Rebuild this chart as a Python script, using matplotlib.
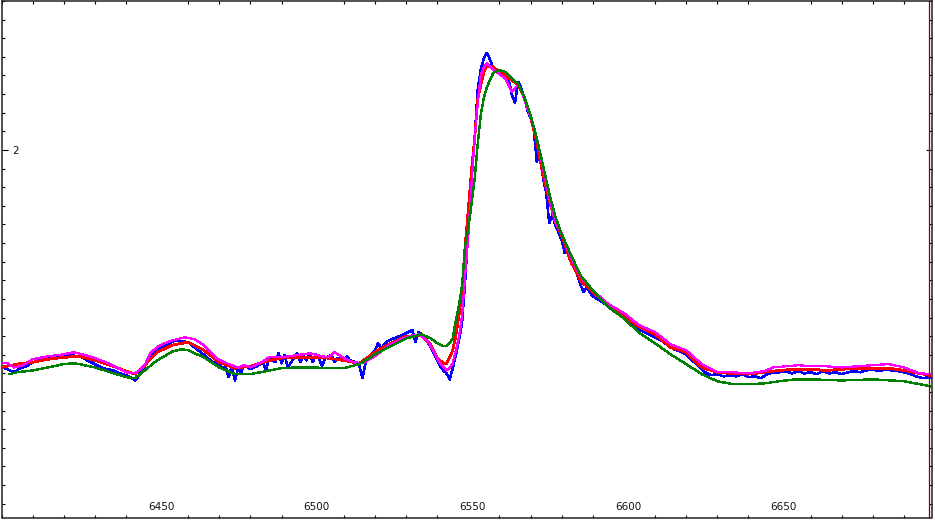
import matplotlib
matplotlib.use("Agg")
import matplotlib.pyplot as plt
import matplotlib.transforms as mtransforms
from matplotlib.ticker import MultipleLocator, FixedLocator, FixedFormatter

# ---------------- data (wavelength in Angstrom, relative flux) ----------------
red_wl = [6400, 6405, 6410, 6415, 6420, 6425, 6430, 6435, 6440, 6443, 6446, 6450, 6455, 6460, 6465,
          6470, 6475, 6480, 6485, 6490, 6495, 6500, 6505, 6510, 6515, 6520, 6525, 6530, 6535, 6538,
          6540, 6542, 6543, 6544, 6545, 6546, 6547, 6548, 6549, 6550, 6551, 6552, 6553, 6554, 6555,
          6556, 6558, 6560, 6563, 6566, 6568, 6570, 6572, 6574, 6576, 6578, 6580, 6583, 6586, 6590,
          6595, 6600, 6605, 6610, 6615, 6620, 6625, 6630, 6635, 6640, 6645, 6650, 6655, 6660, 6665,
          6670, 6675, 6680, 6685, 6690, 6695, 6700]
red_flux = [1.416, 1.425, 1.430, 1.438, 1.443, 1.446, 1.435, 1.422, 1.406, 1.398, 1.422, 1.457, 1.476, 1.484, 1.462,
            1.430, 1.414, 1.419, 1.433, 1.441, 1.443, 1.443, 1.441, 1.435, 1.427, 1.457, 1.481, 1.500, 1.502, 1.476,
            1.441, 1.427, 1.427, 1.443, 1.462, 1.502, 1.556, 1.623, 1.744, 1.838, 1.941, 2.027, 2.134, 2.175, 2.209,
            2.226, 2.223, 2.209, 2.193, 2.175, 2.142, 2.089, 2.021, 1.933, 1.865, 1.806, 1.771, 1.699, 1.650, 1.618,
            1.583, 1.554, 1.524, 1.505, 1.470, 1.457, 1.416, 1.403, 1.400, 1.398, 1.403, 1.408, 1.411, 1.411, 1.408,
            1.411, 1.414, 1.414, 1.414, 1.408, 1.400, 1.392]

green_wl = [6402.5, 6405, 6410, 6415, 6420, 6423, 6425, 6430, 6435, 6440, 6443, 6446, 6450, 6455, 6458,
            6460, 6465, 6470, 6475, 6480, 6485, 6490, 6495, 6500, 6505, 6510, 6515, 6520, 6525, 6530,
            6535, 6538, 6540, 6542, 6543, 6544, 6545, 6546, 6547, 6548, 6549, 6550, 6551, 6552, 6553,
            6554, 6555, 6556, 6558, 6560, 6562, 6564, 6566, 6568, 6570, 6572, 6574, 6576, 6578, 6580,
            6583, 6586, 6590, 6595, 6600, 6605, 6610, 6615, 6620, 6625, 6630, 6635, 6640, 6645, 6650,
            6655, 6660, 6670, 6680, 6690, 6695, 6700]
green_flux = [1.398, 1.403, 1.408, 1.416, 1.425, 1.427, 1.425, 1.416, 1.403, 1.390, 1.387, 1.408, 1.435, 1.459, 1.465,
              1.462, 1.443, 1.416, 1.398, 1.398, 1.406, 1.414, 1.416, 1.416, 1.414, 1.414, 1.425, 1.451, 1.473, 1.494,
              1.505, 1.494, 1.481, 1.473, 1.473, 1.481, 1.494, 1.543, 1.583, 1.637, 1.744, 1.790, 1.852, 1.919, 2.013,
              2.094, 2.140, 2.169, 2.207, 2.215, 2.209, 2.193, 2.177, 2.142, 2.094, 2.032, 1.959, 1.884, 1.820, 1.774,
              1.718, 1.664, 1.623, 1.578, 1.548, 1.508, 1.481, 1.451, 1.425, 1.398, 1.379, 1.371, 1.371, 1.373, 1.379,
              1.384, 1.384, 1.381, 1.384, 1.379, 1.371, 1.363]

magenta_wl = [6400, 6402, 6404, 6407, 6410, 6415, 6420, 6423, 6427, 6430, 6435, 6440, 6443, 6446, 6448,
              6451, 6455, 6459, 6462, 6465, 6469, 6473, 6476, 6478, 6480, 6483, 6486, 6490, 6495, 6499,
              6503, 6505, 6507, 6510, 6513, 6516, 6520, 6525, 6530, 6534, 6537, 6539, 6541, 6543, 6544,
              6545, 6546, 6547, 6548, 6549, 6550, 6551, 6552, 6553, 6554, 6555, 6556, 6558, 6560, 6562,
              6564, 6565, 6566, 6567, 6568, 6570, 6572, 6574, 6576, 6578, 6580, 6583, 6586, 6590, 6595,
              6600, 6605, 6610, 6615, 6620, 6625, 6630, 6635, 6640, 6645, 6648, 6652, 6656, 6660, 6665,
              6670, 6675, 6680, 6685, 6690, 6695, 6700]
magenta_flux = [1.427, 1.427, 1.416, 1.422, 1.438, 1.446, 1.451, 1.457, 1.449, 1.441, 1.425, 1.403, 1.400, 1.422, 1.457,
                1.476, 1.489, 1.497, 1.492, 1.476, 1.441, 1.425, 1.416, 1.422, 1.416, 1.427, 1.443, 1.443, 1.449, 1.454,
                1.446, 1.443, 1.457, 1.441, 1.430, 1.427, 1.446, 1.478, 1.497, 1.505, 1.486, 1.457, 1.425, 1.408, 1.414,
                1.427, 1.462, 1.497, 1.556, 1.664, 1.771, 1.906, 2.027, 2.121, 2.201, 2.223, 2.234, 2.215, 2.204, 2.191,
                2.156, 2.166, 2.175, 2.161, 2.134, 2.089, 2.032, 1.951, 1.871, 1.806, 1.777, 1.709, 1.661, 1.623, 1.586,
                1.562, 1.529, 1.511, 1.478, 1.462, 1.425, 1.403, 1.403, 1.400, 1.406, 1.416, 1.419, 1.422, 1.419, 1.419,
                1.416, 1.419, 1.422, 1.425, 1.416, 1.400, 1.398]

blue_wl = [6400, 6402, 6404, 6406, 6408, 6410, 6412, 6414, 6416, 6418, 6420, 6422, 6424, 6426, 6428,
           6430, 6432, 6434, 6436, 6438, 6440, 6442, 6443, 6444, 6446, 6448, 6450, 6452, 6454, 6456,
           6458, 6460, 6462, 6464, 6466, 6468, 6470, 6471, 6472, 6473, 6474, 6475, 6476, 6477, 6478,
           6480, 6482, 6484, 6485, 6486, 6488, 6489, 6490, 6491, 6492, 6494, 6495, 6496, 6497, 6498,
           6499, 6500, 6501, 6502, 6503, 6504, 6506, 6507, 6508, 6510, 6511, 6512, 6514, 6515, 6516,
           6517, 6518, 6520, 6521, 6522, 6524, 6526, 6528, 6530, 6532, 6533, 6534, 6536, 6538, 6540,
           6541, 6542, 6543, 6544, 6545, 6546, 6547, 6548, 6549, 6550, 6551, 6552, 6553, 6554, 6555,
           6556, 6557, 6558, 6559, 6560, 6561, 6562, 6563, 6564, 6565, 6566, 6567, 6568, 6569, 6570,
           6571, 6572, 6573, 6574, 6575, 6576, 6577, 6578, 6580, 6581, 6582, 6584, 6585, 6586, 6587,
           6588, 6590, 6592, 6594, 6596, 6598, 6600, 6602, 6604, 6606, 6608, 6610, 6612, 6614, 6616,
           6618, 6620, 6622, 6624, 6626, 6628, 6630, 6632, 6634, 6636, 6638, 6640, 6642, 6644, 6646,
           6648, 6650, 6652, 6654, 6656, 6658, 6660, 6662, 6664, 6666, 6668, 6670, 6672, 6674, 6676,
           6678, 6680, 6682, 6684, 6686, 6688, 6690, 6692, 6694, 6696, 6698, 6700]
blue_flux = [1.416, 1.411, 1.403, 1.414, 1.419, 1.430, 1.435, 1.438, 1.441, 1.443, 1.449, 1.451, 1.446, 1.443, 1.433,
             1.425, 1.416, 1.411, 1.408, 1.400, 1.395, 1.387, 1.381, 1.392, 1.419, 1.449, 1.465, 1.473, 1.481, 1.489,
             1.486, 1.484, 1.470, 1.457, 1.443, 1.430, 1.425, 1.414, 1.419, 1.390, 1.419, 1.381, 1.414, 1.403, 1.422,
             1.411, 1.419, 1.430, 1.408, 1.441, 1.430, 1.454, 1.427, 1.449, 1.416, 1.441, 1.454, 1.430, 1.446, 1.435,
             1.454, 1.430, 1.451, 1.441, 1.419, 1.441, 1.449, 1.430, 1.441, 1.433, 1.446, 1.435, 1.430, 1.419, 1.387,
             1.430, 1.441, 1.462, 1.481, 1.468, 1.486, 1.494, 1.500, 1.508, 1.516, 1.484, 1.511, 1.500, 1.468, 1.435,
             1.419, 1.408, 1.400, 1.384, 1.414, 1.449, 1.489, 1.537, 1.650, 1.785, 1.933, 2.027, 2.161, 2.215, 2.247,
             2.261, 2.242, 2.220, 2.215, 2.204, 2.199, 2.193, 2.188, 2.148, 2.126, 2.183, 2.166, 2.140, 2.107, 2.086,
             2.059, 1.968, 2.000, 1.925, 1.887, 1.804, 1.825, 1.798, 1.758, 1.723, 1.731, 1.683, 1.666, 1.640, 1.618,
             1.631, 1.607, 1.597, 1.586, 1.578, 1.564, 1.548, 1.532, 1.521, 1.513, 1.505, 1.497, 1.489, 1.476, 1.465,
             1.459, 1.451, 1.435, 1.419, 1.403, 1.395, 1.398, 1.392, 1.395, 1.392, 1.398, 1.390, 1.392, 1.387, 1.398,
             1.403, 1.403, 1.406, 1.400, 1.406, 1.400, 1.403, 1.398, 1.406, 1.400, 1.403, 1.398, 1.403, 1.406, 1.403,
             1.408, 1.411, 1.406, 1.411, 1.408, 1.406, 1.403, 1.398, 1.392, 1.387, 1.390, 1.387]

x_major = [6450, 6500, 6550, 6600, 6650]
x_labels = ["6450", "6500", "6550", "6600", "6650"]
y_major = [2.0]
y_labels = ["2"]
x_range = (6400, 6699)
y_range = (1.013, 2.400)
cursor_wavelength = 6698.1

# ---------------- figure ----------------
W, H, DPI = 935, 520, 100
fig = plt.figure(figsize=(W / DPI, H / DPI), dpi=DPI, facecolor="white")
ax = fig.add_axes([1.5 / W, (H - 517.5) / H, (932 - 1.5) / W, (517.5 - 1) / H])
ax.set_facecolor("white")

ax.plot(blue_wl, blue_flux, color="#0000ff", lw=1.1, antialiased=False, zorder=2)
ax.plot(red_wl, red_flux, color="#ff0000", lw=1.3, antialiased=False, zorder=3)
ax.plot(magenta_wl, magenta_flux, color="#ff00ff", lw=0.9, antialiased=False, zorder=4)
ax.plot(green_wl, green_flux, color="#008000", lw=1.0, antialiased=False, zorder=5)
ax.axvline(cursor_wavelength, color="#8b0000", lw=0.9, zorder=6)

ax.set_xlim(*x_range)
ax.set_ylim(*y_range)

ax.xaxis.set_major_locator(FixedLocator(x_major))
ax.xaxis.set_major_formatter(FixedFormatter(x_labels))
ax.xaxis.set_minor_locator(MultipleLocator(10))
ax.yaxis.set_major_locator(FixedLocator(y_major))
ax.yaxis.set_major_formatter(FixedFormatter(y_labels))
ax.yaxis.set_minor_locator(MultipleLocator(0.05))

ax.tick_params(axis="x", which="major", direction="in", length=0, top=True, bottom=True,
               labelsize=7.5, pad=-11, labelcolor="#111111")
ax.tick_params(axis="x", which="minor", direction="in", length=2.5, width=0.8, top=True, bottom=True)
ax.tick_params(axis="y", which="major", direction="in", length=4.5, width=0.8, left=True, right=True,
               labelsize=7.5, pad=-7.5, labelcolor="#111111")
ax.tick_params(axis="y", which="minor", direction="in", length=2.5, width=0.8, left=True, right=True)
for lab in ax.get_yticklabels():
    lab.set_horizontalalignment("left")

# labels sit slightly right of their tick positions in the reference
shift = mtransforms.ScaledTranslation(4 / DPI, 0, fig.dpi_scale_trans)
for lab in ax.get_xticklabels():
    lab.set_transform(lab.get_transform() + shift)

for s in ax.spines.values():
    s.set_color("#222222")
    s.set_linewidth(1.1)

fig.savefig("out.png", dpi=DPI, facecolor="white")
